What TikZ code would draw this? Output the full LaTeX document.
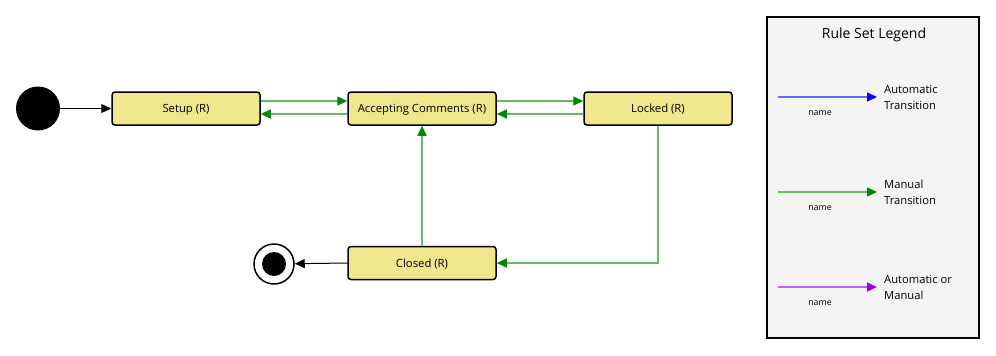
\documentclass[tikz,border=0pt]{standalone}
\usepackage{fontspec}
\setmainfont{Open Sans}
\usetikzlibrary{arrows.meta}
\definecolor{khaki}{HTML}{F0E68C}
\definecolor{glLine}{HTML}{66BB66}
\definecolor{glHead}{HTML}{008800}
\definecolor{blLine}{HTML}{6666FF}
\definecolor{blHead}{HTML}{0000FF}
\definecolor{puLine}{HTML}{BB66EE}
\definecolor{puHead}{HTML}{9900DD}
\definecolor{legfill}{HTML}{F4F4F4}
\tikzset{
  state/.style={draw=black, line width=1.5pt, fill=khaki, rounded corners=3pt,
    minimum width=148pt, minimum height=33pt, inner sep=0pt, text height=8pt, text depth=0pt,
    font=\fontsize{11.3}{13}\selectfont},
  blk/.style={draw=black, line width=1pt, -{Triangle[length=10pt,width=9pt]}},
  man/.style={draw=glLine, line width=1.4pt, -{Triangle[length=10pt,width=9pt,color=glHead]}},
  aut/.style={draw=blLine, line width=1.4pt, -{Triangle[length=10pt,width=9pt,color=blHead]}},
  aom/.style={draw=puLine, line width=1.4pt, -{Triangle[length=10pt,width=9pt,color=puHead]}},
  lgtext/.style={anchor=west, align=left, font=\fontsize{11.2}{16}\selectfont, inner sep=0pt},
  nm/.style={font=\fontsize{8.8}{10}\selectfont, inner sep=0pt},
}
\begin{document}
\begin{tikzpicture}[x=1pt,y=-1pt]
\useasboundingbox (0,0) rectangle (996,356);
% start
\node[circle, fill=black, minimum size=44pt, inner sep=0pt] (start) at (38,108.5) {};
% states
\node[state] (setup) at (186,108.5) {Setup (R)};
\node[state] (acc) at (422,108.5) {Accepting Comments (R)};
\node[state] (lock) at (658,108.5) {Locked (R)};
\node[state] (closed) at (422,263) {Closed (R)};
% end
\node[circle, draw=black, line width=1.5pt, fill=white, minimum size=40pt, inner sep=0pt] (end) at (274,264) {};
\node[circle, fill=black, minimum size=24pt, inner sep=0pt] at (end) {};
% connectors
\draw[blk] (start) -- (setup);
\draw[man] ([yshift=7.5pt]setup.east) -- ([yshift=7.5pt]acc.west);
\draw[man] ([yshift=-5.5pt]acc.west) -- ([yshift=-5.5pt]setup.east);
\draw[man] ([yshift=7.5pt]acc.east) -- ([yshift=7.5pt]lock.west);
\draw[man] ([yshift=-5.5pt]lock.west) -- ([yshift=-5.5pt]acc.east);
\draw[man] (lock.south) |- (closed.east);
\draw[man] (closed.north) -- (acc.south);
\draw[blk] (closed.west) -- (end);
% legend
\node[draw=black, line width=1.5pt, fill=legfill, minimum width=212pt, minimum height=321pt, inner sep=0pt] (leg) at (873,177.5) {};
\node[font=\fontsize{14}{16}\selectfont] (title) at (874,35) {Rule Set Legend};
\coordinate (a1) at (778,97); \coordinate (a2) at (877,97);
\coordinate (m1) at (778,192); \coordinate (m2) at (877,192);
\coordinate (p1) at (778,287); \coordinate (p2) at (877,287);
\draw[aut] (a1) -- (a2);
\draw[man] (m1) -- (m2);
\draw[aom] (p1) -- (p2);
\node[nm] (n1) at (820,113) {name};
\node[nm] (n2) at (820,208) {name};
\node[nm] (n3) at (820,303) {name};
\node[lgtext] (t1) at (884,97.5) {Automatic\\Transition};
\node[lgtext] (t2) at (884,192.5) {Manual\\Transition};
\node[lgtext] (t3) at (884,287.5) {Automatic or\\Manual};
\end{tikzpicture}
\end{document}
